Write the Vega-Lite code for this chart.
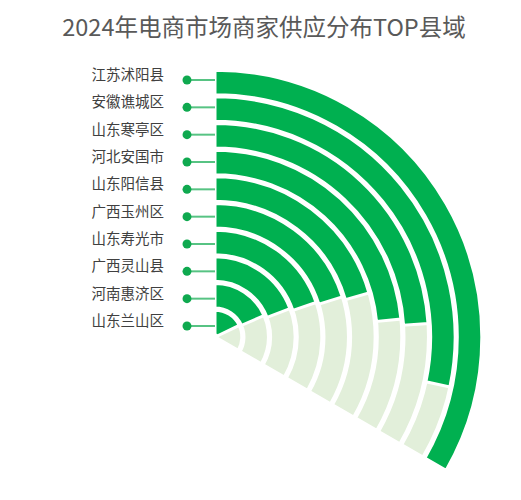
{
  "$schema": "https://vega.github.io/schema/vega-lite/v6.json",
  "description": "2024年电商市场商家供应分布TOP县域 - radial bars",
  "width": 430,
  "height": 300,
  "autosize": {"type": "none"},
  "padding": {"left": 0, "top": 187, "right": 91, "bottom": 13},
  "title": {
    "text": "2024年电商市场商家供应分布TOP县域",
    "font": "Noto Sans CJK SC",
    "fontSize": 23.5,
    "fontWeight": "normal",
    "color": "#595959",
    "anchor": "middle",
    "dx": 49,
    "offset": 24
  },
  "data": {
    "values": [
      {"county": "江苏沭阳县", "rank": 1, "share": 100},
      {"county": "安徽谯城区", "rank": 2, "share": 85},
      {"county": "山东寒亭区", "rank": 3, "share": 72},
      {"county": "河北安国市", "rank": 4, "share": 70.4},
      {"county": "山东阳信县", "rank": 5, "share": 61.7},
      {"county": "广西玉州区", "rank": 6, "share": 60.4},
      {"county": "山东寿光市", "rank": 7, "share": 59.3},
      {"county": "广西灵山县", "rank": 8, "share": 57.7},
      {"county": "河南惠济区", "rank": 9, "share": 55.3},
      {"county": "山东兰山区", "rank": 10, "share": 53.7}
    ]
  },
  "layer": [
    {
      "mark": {"type": "arc", "fill": "#E2EFDA", "stroke": "white", "strokeWidth": 3, "radius2Offset": -24.5},
      "encoding": {
        "theta": {"datum": 100, "type": "quantitative", "scale": {"domain": [0, 100], "range": [0, 2.0944]}},
        "theta2": {"datum": 0},
        "radius": {"field": "rank", "type": "quantitative", "scale": {"type": "linear", "domain": [1, 10], "range": [266.8, 26.8], "zero": false}},
        "radius2": {"field": "rank"}
      }
    },
    {
      "mark": {"type": "arc", "fill": "#00B050", "stroke": "white", "strokeWidth": 3, "radius2Offset": -24.5},
      "encoding": {
        "theta": {"field": "share", "type": "quantitative", "stack": null},
        "theta2": {"datum": 0},
        "radius": {"field": "rank", "type": "quantitative"},
        "radius2": {"field": "rank"},
        "tooltip": [
          {"field": "county", "type": "nominal", "title": "县域"},
          {"field": "share", "type": "quantitative"}
        ]
      }
    },
    {
      "mark": {"type": "tick", "orient": "horizontal", "color": "#0FA94F", "size": 28, "thickness": 2, "xOffset": -14},
      "encoding": {
        "y": {"field": "rank", "type": "quantitative", "scale": {"domain": [1, 10], "range": [-107, 139], "nice": false, "zero": false}, "axis": null}
      }
    },
    {
      "mark": {"type": "point", "filled": true, "color": "#0FA94F", "opacity": 1, "size": 80, "xOffset": -28},
      "encoding": {
        "y": {"field": "rank", "type": "quantitative"}
      }
    },
    {
      "mark": {"type": "text", "align": "right", "baseline": "middle", "dx": -51, "dy": -4, "font": "Noto Sans CJK SC", "fontSize": 14.5, "color": "#404040"},
      "encoding": {
        "y": {"field": "rank", "type": "quantitative"},
        "text": {"field": "county", "type": "nominal"}
      }
    }
  ],
  "config": {
    "view": {"stroke": null},
    "background": "white"
  }
}
